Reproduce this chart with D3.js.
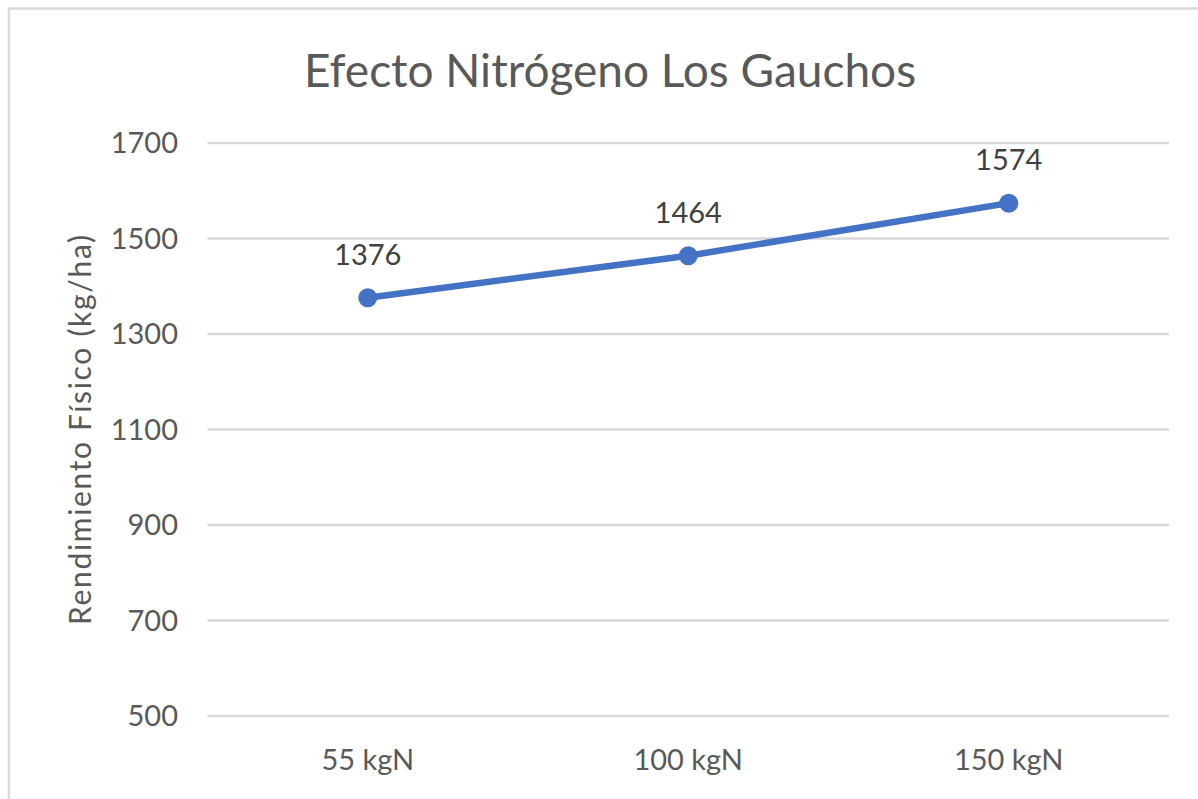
<!DOCTYPE html>
<html><head><meta charset="utf-8">
<script src="https://cdn.jsdelivr.net/npm/d3@7"></script>
<style>body{margin:0;background:#fff;} text{font-family:Lato, "Open Sans", sans-serif;}</style>
</head><body>
<svg id="c" width="1198" height="799"></svg>
<script>
const categories = ["55 kgN", "100 kgN", "150 kgN"];
const values = [1376, 1464, 1574];
const yTicks = [500, 700, 900, 1100, 1300, 1500, 1700];
const title = "Efecto Nitrógeno Los Gauchos";
const yTitle = "Rendimiento Físico (kg/ha)";

const svg = d3.select("#c");
const W = 1198, H = 799;
svg.append("rect").attr("x", 9).attr("y", 8.5).attr("width", W + 20).attr("height", H + 20)
  .attr("fill", "#fff").attr("stroke", "#d9d9d9").attr("stroke-width", 2.5);

const x = d3.scaleBand().domain(categories).range([207.5, 1169]);
const y = d3.scaleLinear().domain([500, 1700]).range([716, 143]);

const g = svg.append("g");
g.selectAll("line.grid").data(yTicks).join("line").attr("class", "grid")
  .attr("x1", 207.5).attr("x2", 1169).attr("y1", d => y(d)).attr("y2", d => y(d))
  .attr("stroke", "#d9d9d9").attr("stroke-width", 2.5);

g.selectAll("text.yt").data(yTicks).join("text").attr("class", "yt")
  .attr("x", 178).attr("y", d => y(d)).attr("dy", "0.35em").attr("text-anchor", "end")
  .attr("font-size", 29).attr("fill", "#595959").text(d => d);

g.selectAll("text.xt").data(categories).join("text").attr("class", "xt")
  .attr("x", d => x(d) + x.bandwidth() / 2).attr("y", 760).attr("dy", "0.35em")
  .attr("text-anchor", "middle").attr("font-size", 29).attr("fill", "#595959").text(d => d);

svg.append("text").attr("x", 610).attr("y", 71).attr("dy", "0.35em").attr("text-anchor", "middle")
  .attr("font-size", 46).attr("fill", "#595959").text(title);

svg.append("text").attr("transform", "translate(80,430) rotate(-90)").attr("dy", "0.35em")
  .attr("text-anchor", "middle").attr("font-size", 30).attr("fill", "#595959")
  .attr("textLength", 390).attr("lengthAdjust", "spacing").text(yTitle);

const data = categories.map((c, i) => ({c, v: values[i]}));
const cx = d => x(d.c) + x.bandwidth() / 2;
svg.append("path").datum(data)
  .attr("d", d3.line().x(cx).y(d => y(d.v)))
  .attr("fill", "none").attr("stroke", "#4472C4").attr("stroke-width", 6.5).attr("stroke-linecap", "round");
svg.selectAll("circle.pt").data(data).join("circle").attr("class", "pt")
  .attr("cx", cx).attr("cy", d => y(d.v)).attr("r", 9.5).attr("fill", "#4472C4");
svg.selectAll("text.lbl").data(data).join("text").attr("class", "lbl")
  .attr("x", cx).attr("y", d => y(d.v) - 43).attr("dy", "0.35em").attr("text-anchor", "middle")
  .attr("font-size", 29).attr("fill", "#404040").text(d => d.v);
</script>
</body></html>
